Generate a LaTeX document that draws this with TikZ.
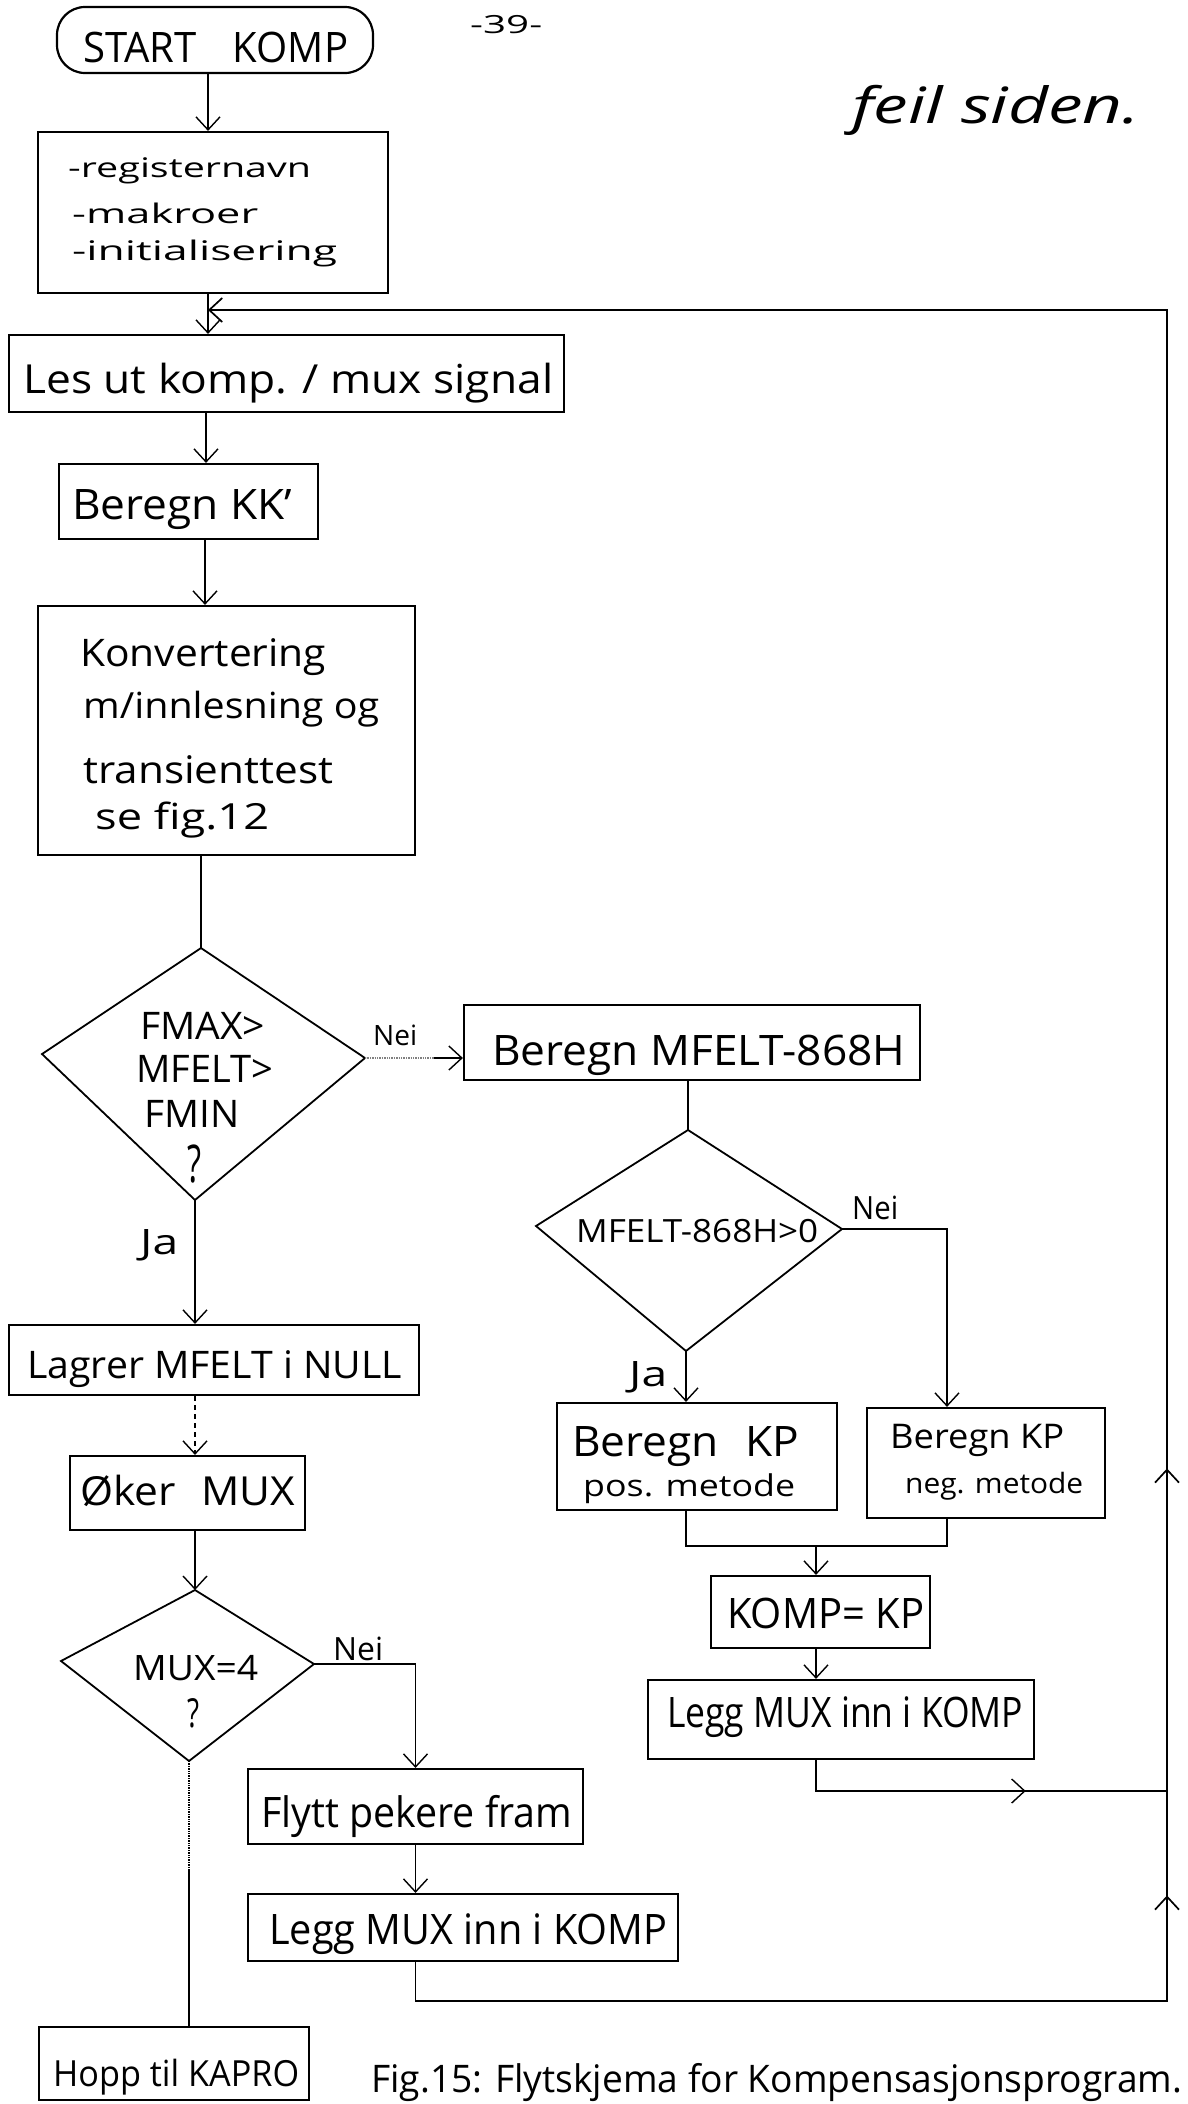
\documentclass[tikz,border=0pt]{standalone}
\usepackage{fontspec}
\setmainfont{Open Sans}
\usepackage{graphicx}
\usetikzlibrary{arrows.meta,decorations.markings,calc}

% text at a given size (pt), stretched to a given width (pt)
\newcommand{\hw}[3]{\resizebox{#2pt}{\height}{\fontsize{#1pt}{#1pt}\selectfont #3}}

\begin{document}
\begin{tikzpicture}[x=1pt,y=-1pt,
  box/.style={draw, line width=2.2pt, inner sep=0pt},
  lbl/.style={inner sep=0pt, anchor=base west},
  conn/.style={line width=1.4pt},
  tip/.tip={Straight Barb[length=13pt,width=24pt]},
  arr/.style={conn, -tip},
  dia/.style={line width=1.8pt, line join=miter}]

\fill[white] (0,0) rectangle (1188,2104);
\useasboundingbox (0,0) rectangle (1188,2104);

% ---------- spine reference points ----------
\coordinate (sA) at (208,0);
\coordinate (sB) at (206,0);
\coordinate (sC) at (205,0);
\coordinate (nx) at (947,0);
\coordinate (mg) at (816,1546);

% ---------- process boxes ----------
\node[box, minimum width=316pt, minimum height=66pt, rounded corners=28pt] (start) at (215,40) {};
\node[box, minimum width=350pt, minimum height=161pt] (box1) at (213,212.5) {};
\node[box, minimum width=555pt, minimum height=77pt] (lesut) at (286.5,373.5) {};
\node[box, minimum width=259pt, minimum height=75pt] (kk) at (188.5,501.5) {};
\node[box, minimum width=377pt, minimum height=249pt] (konv) at (226.5,730.5) {};
\node[box, minimum width=456pt, minimum height=75pt] (mfelt) at (692,1042.5) {};
\node[box, minimum width=410pt, minimum height=70pt] (lagrer) at (214,1360) {};
\node[box, minimum width=235pt, minimum height=74pt] (oker) at (187.5,1493) {};
\node[box, minimum width=280pt, minimum height=107pt] (pos) at (697,1456.5) {};
\node[box, minimum width=238pt, minimum height=110pt] (neg) at (986,1463) {};
\node[box, minimum width=219pt, minimum height=72pt] (kompkp) at (820.5,1612) {};
\node[box, minimum width=386pt, minimum height=79pt] (leggR) at (841,1719.5) {};
\node[box, minimum width=335pt, minimum height=75pt] (flytt) at (415.5,1806.5) {};
\node[box, minimum width=430pt, minimum height=67pt] (leggL) at (463,1927.5) {};
\node[box, minimum width=270pt, minimum height=73pt] (hopp) at (174,2063.5) {};

% ---------- decisions ----------
\coordinate (D1t) at (201,948);  \coordinate (D1r) at (365,1058);
\coordinate (D1b) at (195,1200); \coordinate (D1l) at (42,1054);
\coordinate (D2t) at (688,1130); \coordinate (D2r) at (842,1229);
\coordinate (D2b) at (686,1351); \coordinate (D2l) at (536,1226);
\coordinate (D3t) at (195,1590); \coordinate (D3r) at (314,1664);
\coordinate (D3b) at (189,1761); \coordinate (D3l) at (61,1661);
\draw[dia] (D1t) -- (D1r) -- (D1b) -- (D1l) -- cycle;
\draw[dia] (D2t) -- (D2r) -- (D2b) -- (D2l) -- cycle;
\draw[dia] (D3t) -- (D3r) -- (D3b) -- (D3l) -- cycle;

% ---------- texts (placed on their baselines) ----------
\node[lbl] (tStart) at (83,62) {\hw{42}{265}{START\hspace{0.9em}KOMP}};
\node[lbl] (tPage) at (470,33) {\hw{25}{72}{-39-}};
\node[lbl] (tNote) at (852,123) {\hw{50}{288}{\itshape feil siden.}};
\node[lbl] (tReg) at (68,177) {\hw{27}{243}{-registernavn}};
\node[lbl] (tMak) at (72,223) {\hw{27}{186}{-makroer}};
\node[lbl] (tIni) at (72,260) {\hw{27}{265}{-initialisering}};
\node[lbl] (tLes) at (23,393) {\hw{40}{530}{Les ut komp. / mux signal}};
\node[lbl] (tKK) at (72,519) {\hw{42}{220}{Beregn KK'}};
\node[lbl] (tKon1) at (80,666) {\hw{38}{246}{Konvertering}};
\node[lbl] (tKon2) at (83,718) {\hw{36}{296}{m/innlesning og}};
\node[lbl] (tKon3) at (83,783) {\hw{38}{250}{transienttest}};
\node[lbl] (tKon4) at (95,829) {\hw{36}{174}{se fig.12}};
\node[lbl] (tFmax) at (140,1039) {\hw{38}{125}{FMAX>}};
\node[lbl] (tMf) at (136,1082) {\hw{38}{137}{MFELT>}};
\node[lbl] (tFmin) at (144,1127) {\hw{38}{95}{FMIN}};
\node[lbl] (tQ1) at (187,1182) {\hw{52}{14}{?}};
\node[lbl] (tNei1) at (373,1045) {\hw{28}{44}{Nei}};
\node[lbl] (tMfelt) at (492,1065) {\hw{42}{413}{Beregn MFELT-868H}};
\node[lbl] (tD2) at (576,1242) {\hw{32}{242}{MFELT-868H>0}};
\node[lbl] (tNei2) at (852,1219) {\hw{32}{46}{Nei}};
\node[lbl] (tJa1) at (140,1254) {\hw{35}{38}{Ja}};
\node[lbl] (tLagrer) at (27,1378) {\hw{38}{375}{Lagrer MFELT i NULL}};
\node[lbl] (tOker) at (80,1505) {\hw{40}{215}{Øker\hspace{0.6em}MUX}};
\node[lbl] (tMux) at (133,1680) {\hw{35}{125}{MUX=4}};
\node[lbl] (tQ3) at (187,1727) {\hw{40}{12}{?}};
\node[lbl] (tNei3) at (333,1660) {\hw{32}{50}{Nei}};
\node[lbl] (tJa2) at (629,1386) {\hw{35}{38}{Ja}};
\node[lbl] (tPos1) at (572,1456) {\hw{42}{227}{Beregn\hspace{0.6em}KP}};
\node[lbl] (tPos2) at (583,1496) {\hw{30}{212}{pos. metode}};
\node[lbl] (tNeg1) at (890,1448) {\hw{34}{174}{Beregn KP}};
\node[lbl] (tNeg2) at (905,1493) {\hw{28}{178}{neg. metode}};
\node[lbl] (tKomp) at (727,1628) {\hw{42}{197}{KOMP= KP}};
\node[lbl] (tLeggR) at (667,1727) {\hw{42}{356}{Legg MUX inn i KOMP}};
\node[lbl] (tFlytt) at (261,1827) {\hw{42}{311}{Flytt pekere fram}};
\node[lbl] (tLeggL) at (269,1944) {\hw{42}{398}{Legg MUX inn i KOMP}};
\node[lbl] (tHopp) at (53,2086) {\hw{36}{246}{Hopp til KAPRO}};
\node[lbl] (tCap) at (371,2092) {\hw{38}{811}{Fig.15: Flytskjema for Kompensasjonsprogram.}};

% ---------- connectors: main column ----------
\draw[arr] (start.south -| sA) -- (box1.north -| sA);
\draw[arr] (box1.south -| sA) -- (lesut.north -| sA);
\draw[arr] (lesut.south -| sB) -- (kk.north -| sB);
\draw[arr] (kk.south -| sC) -- (konv.north -| sC);
\draw[conn] (konv.south -| D1t) -- (D1t);

% no-branch of first test
\draw[conn, densely dotted, gray] (D1r) -- ($(D1r)!0.7!(mfelt.west |- D1r)$);
\draw[arr] ($(D1r)!0.7!(mfelt.west |- D1r)$) -- (mfelt.west |- D1r);
\draw[conn] (mfelt.south -| D2t) -- (D2t);
\draw[arr] (D2r) -| (neg.north -| nx);
\draw[arr] (D2b) -- (pos.north -| D2b);
\draw[conn] (pos.south -| D2b) -- (D2b |- mg) -- (nx |- mg) -- (neg.south -| nx);
\draw[arr] (mg) -- (kompkp.north -| mg);
\draw[arr] (kompkp.south -| mg) -- (leggR.north -| mg);

% joins the return line
\coordinate (jR) at (1167,1791);
\draw[conn, postaction={decorate}, decoration={markings,
    mark=at position 0.63 with {\arrow{tip}}}]
  (leggR.south -| mg) |- (jR);

% yes-branch of first test
\draw[arr] (D1b) -- (lagrer.north -| D1b);
\draw[arr, dash pattern=on 5pt off 4pt] (lagrer.south -| D1b) -- (oker.north -| D1b);
\draw[arr] (oker.south -| D3t) -- (D3t);
\draw[arr] (D3r) -| (flytt.north);
\draw[arr] (flytt.south) -- (leggL.north -| flytt.south);
\draw[conn, densely dotted] (D3b) -- ($(D3b)!0.41!(hopp.north -| D3b)$);
\draw[conn] ($(D3b)!0.41!(hopp.north -| D3b)$) -- (hopp.north -| D3b);

% return line back to the read step
\coordinate (loopR) at (1167,2001);
\coordinate (loopT) at (1167,310);
\draw[arr, line width=1.7pt, postaction={decorate}, decoration={markings,
    mark=at position 896pt with {\arrow{tip}},
    mark=at position 1323pt with {\arrow{tip}}}]
  (leggL.south -| flytt.south) |- (loopR) -- (loopT) -- (sA |- loopT);

\end{tikzpicture}
\end{document}
